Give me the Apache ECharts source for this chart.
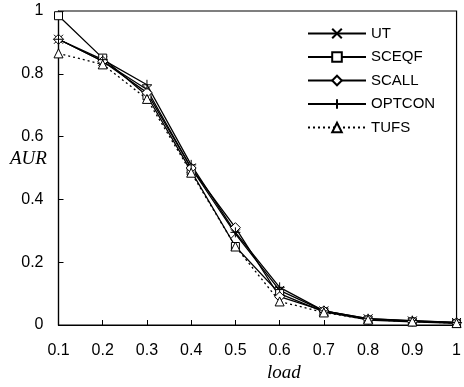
<!DOCTYPE html>
<html>
<head>
<meta charset="utf-8">
<script src="https://cdn.jsdelivr.net/npm/echarts@6/dist/echarts.min.js"></script>
<style>
  html, body { margin: 0; padding: 0; background: #fff; }
  #main { width: 464px; height: 387px; }
</style>
</head>
<body>
<div id="main"></div>
<script>
// values
var loads = ['0.1', '0.2', '0.3', '0.4', '0.5', '0.6', '0.7', '0.8', '0.9', '1'];
var ut     = [0.91, 0.84, 0.75, 0.50, 0.29, 0.11, 0.045, 0.020, 0.013, 0.008];
var sceqf  = [0.985, 0.85, 0.73, 0.49, 0.25, 0.10, 0.042, 0.016, 0.010, 0.005];
var scall  = [0.91, 0.84, 0.74, 0.50, 0.31, 0.09, 0.045, 0.018, 0.012, 0.007];
var optcon = [0.91, 0.845, 0.765, 0.51, 0.295, 0.12, 0.045, 0.020, 0.014, 0.008];
var tufs   = [0.865, 0.83, 0.72, 0.485, 0.25, 0.075, 0.040, 0.017, 0.011, 0.006];

var chart = echarts.init(document.getElementById('main'));

function mk(name, data, symbol, size, dash) {
  return {
    name: name,
    type: 'line',
    data: data,
    symbol: symbol,
    symbolSize: size,
    showAllSymbol: true,
    lineStyle: { color: '#000', width: 1.3, type: dash || 'solid' },
    itemStyle: { color: '#fff', borderColor: '#000', borderWidth: 1 },
    emphasis: { disabled: true },
    animation: false
  };
}

var option = {
  backgroundColor: '#fff',
  animation: false,
  grid: {
    left: 58.5, right: 5, top: 11, bottom: 62,
    show: true, borderColor: '#000', borderWidth: 1.2
  },
  legend: {
    orient: 'vertical',
    left: 307, top: 26, padding: 0,
    itemWidth: 58, itemHeight: 12, itemGap: 8.5,
    textStyle: { fontFamily: 'Liberation Sans', fontSize: 15, color: '#000' },
    data: ['UT', 'SCEQF', 'SCALL', 'OPTCON', 'TUFS']
  },
  xAxis: {
    type: 'category',
    data: loads,
    boundaryGap: false,
    axisLine: { lineStyle: { color: '#000', width: 1.2 } },
    axisTick: { inside: true, length: 5, lineStyle: { color: '#000' } },
    axisLabel: { fontFamily: 'Liberation Sans', fontSize: 16, color: '#000', margin: 18 },
    splitLine: { show: false }
  },
  yAxis: {
    type: 'value',
    min: 0, max: 1, interval: 0.2,
    axisLine: { show: true, lineStyle: { color: '#000', width: 1.2 } },
    axisTick: { show: true, inside: true, length: 5, lineStyle: { color: '#000' } },
    axisLabel: { fontFamily: 'Liberation Sans', fontSize: 16, color: '#000', margin: 15 },
    splitLine: { show: false }
  },
  graphic: [
    { type: 'text', left: 10, top: 149,
      style: { text: 'AUR', font: 'italic 19px "Liberation Serif"', fill: '#000' } },
    { type: 'text', left: 267, top: 363,
      style: { text: 'load', font: 'italic 19px "Liberation Serif"', fill: '#000' } }
  ],
  series: [
    mk('UT', ut, 'path://M0,0L10,10M0,10L10,0', 9),
    mk('SCEQF', sceqf, 'rect', 8),
    mk('SCALL', scall, 'diamond', 10),
    mk('OPTCON', optcon, 'path://M5,0L5,10M0,5L10,5', 10),
    mk('TUFS', tufs, 'triangle', 9, [2, 3])
  ]
};

chart.setOption(option);
</script>
</body>
</html>
